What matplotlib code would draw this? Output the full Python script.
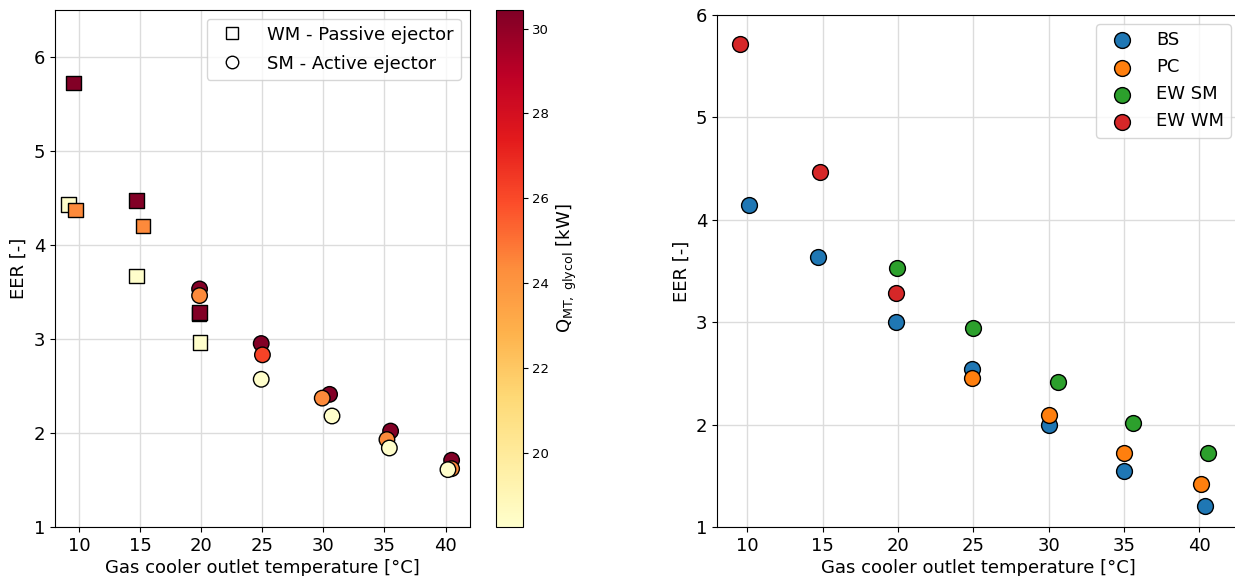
import numpy as np
import matplotlib
matplotlib.use('Agg')
from matplotlib import pyplot as plt
from matplotlib.lines import Line2D

# left: WM passive ejector (squares), SM active ejector (circles), coloured by Q_MT,glycol
wm_t = [9.1, 9.7, 9.5, 14.7, 15.2, 14.7, 19.9, 19.8, 19.85]
wm_eer = [4.43, 4.37, 5.72, 3.67, 4.20, 4.47, 2.96, 3.265, 3.28]
wm_q = [18.3, 24.4, 30.4, 18.3, 24.4, 30.4, 18.3, 24.4, 30.4]

sm_t = [19.85, 19.85, 24.9, 25.0, 24.9, 30.5, 29.9, 30.7, 35.5, 35.2, 35.4, 40.5, 40.5, 40.2]
sm_eer = [3.53, 3.46, 2.95, 2.83, 2.57, 2.41, 2.37, 2.18, 2.02, 1.93, 1.84, 1.71, 1.62, 1.61]
sm_q = [30.4, 24.4, 30.4, 26.2, 18.3, 30.4, 24.4, 18.3, 30.4, 24.4, 18.3, 30.4, 24.4, 18.3]

q_min, q_max = 18.25, 30.45

# right: comparison of configurations
bs_t = [10.1, 14.7, 19.85, 24.9, 30.0, 35.0, 40.4]
bs_eer = [4.14, 3.64, 3.00, 2.54, 2.00, 1.55, 1.21]
pc_t = [24.9, 30.0, 35.0, 40.1]
pc_eer = [2.46, 2.09, 1.72, 1.42]
ewsm_t = [19.95, 24.95, 30.6, 35.6, 40.6]
ewsm_eer = [3.53, 2.94, 2.42, 2.02, 1.72]
ewwm_t = [9.5, 14.8, 19.9]
ewwm_eer = [5.72, 4.47, 3.29]

xticks = [10, 15, 20, 25, 30, 35, 40]

fig = plt.figure(figsize=(12.35, 5.76), dpi=100)

ax1 = fig.add_axes([0.0445, 0.085, 0.336, 0.8985])
cax = fig.add_axes([0.4016, 0.085, 0.0215, 0.8985])
ax2 = fig.add_axes([0.5806, 0.085, 0.4235, 0.889])

for ax in (ax1, ax2):
    ax.grid(True, color='#dcdcdc', linewidth=1)
    ax.set_axisbelow(True)
    ax.set_xticks(xticks)
    ax.tick_params(labelsize=13)
    ax.set_xlabel('Gas cooler outlet temperature [°C]', fontsize=13, labelpad=3)
    ax.set_ylabel('EER [-]', fontsize=13)

# 左圖
cmap = plt.get_cmap('YlOrRd')
ax1.scatter(wm_t, wm_eer, c=wm_q, cmap=cmap, vmin=q_min, vmax=q_max, marker='s',
            s=110, edgecolors='black', linewidths=1, zorder=3)
sc = ax1.scatter(sm_t, sm_eer, c=sm_q, cmap=cmap, vmin=q_min, vmax=q_max, marker='o',
                 s=125, edgecolors='black', linewidths=1, zorder=3)
ax1.set_xlim(8, 42)
ax1.set_ylim(1, 6.5)
ax1.set_yticks([1, 2, 3, 4, 5, 6])

handles = [Line2D([], [], marker='s', linestyle='', markersize=9, markerfacecolor='white',
                  markeredgecolor='black'),
           Line2D([], [], marker='o', linestyle='', markersize=9, markerfacecolor='white',
                  markeredgecolor='black')]
ax1.legend(handles, ['WM - Passive ejector', 'SM - Active ejector'], loc='upper right',
           fontsize=13, handletextpad=0.95, labelspacing=0.6)

cb = fig.colorbar(sc, cax=cax)
cb.set_ticks([20, 22, 24, 26, 28, 30])
cb.ax.tick_params(labelsize=9.5)
cb.set_label(r'Q$_{\mathrm{MT,\ glycol}}$ [kW]', fontsize=13)

# 右圖
ax2.scatter(bs_t, bs_eer, s=130, color='tab:blue', edgecolors='black', linewidths=1, zorder=3, label='BS')
ax2.scatter(pc_t, pc_eer, s=130, color='tab:orange', edgecolors='black', linewidths=1, zorder=3, label='PC')
ax2.scatter(ewsm_t, ewsm_eer, s=130, color='tab:green', edgecolors='black', linewidths=1, zorder=3, label='EW SM')
ax2.scatter(ewwm_t, ewwm_eer, s=130, color='tab:red', edgecolors='black', linewidths=1, zorder=3, label='EW WM')
ax2.set_xlim(8, 42.7)
ax2.set_ylim(1, 6)
ax2.spines['right'].set_visible(False)
ax2.legend(loc='upper right', fontsize=13, handletextpad=0.9)

fig.savefig('out.png', dpi=100)
